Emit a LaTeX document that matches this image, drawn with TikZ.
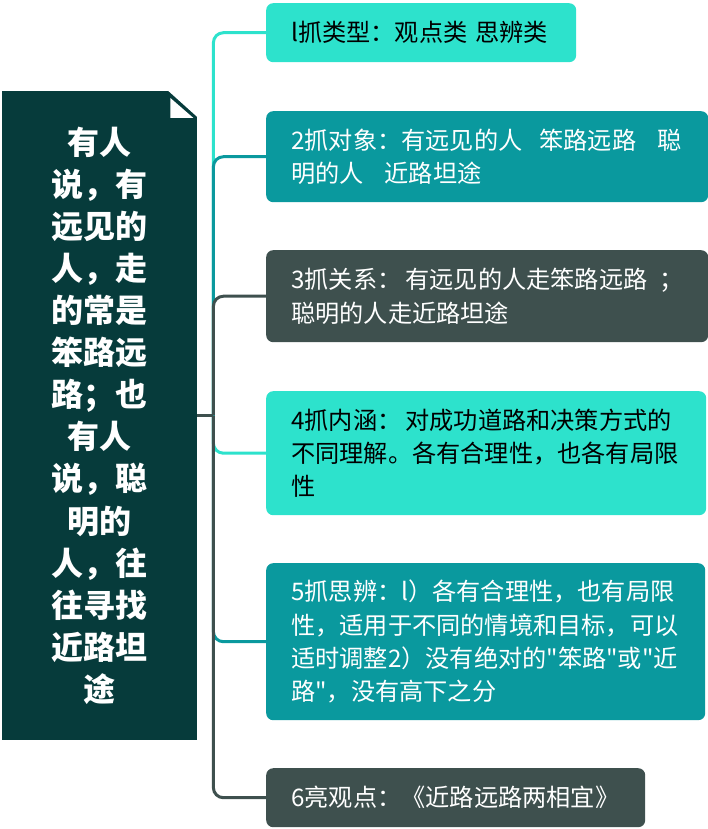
\documentclass[tikz,border=0pt]{standalone}
\usepackage{fontspec}
\setmainfont{Noto Sans CJK SC}
\definecolor{turq}{HTML}{2DE2CC}
\definecolor{tealb}{HTML}{0A999E}
\definecolor{slate}{HTML}{3E504E}
\definecolor{deep}{HTML}{063B3B}
\newcommand{\sq}{\textquotedbl}
\begin{document}
\begin{tikzpicture}[x=1pt,y=-1pt,
  box/.style={rounded corners=7pt, anchor=north west, inner xsep=25pt, inner ysep=0pt, align=left, font=\fontsize{24.2}{33.3}\selectfont},
  branch/.style={line width=3pt, rounded corners=10pt}]
\useasboundingbox (0,0) rectangle (708,829);
\node[fill=deep, minimum width=195pt, minimum height=649pt, anchor=north west, inner sep=0pt, text=white, align=center, font=\fontsize{32}{42.1}\bfseries\selectfont] (main) at (2,91)
 {有人\\说，有\\远见的\\人，走\\的常是\\笨路远\\路；也\\有人\\说，聪\\明的\\人，往\\往寻找\\近路坦\\途};
\fill[white] ([xshift=-29pt]main.north east) -- ([xshift=1pt,yshift=1pt]main.north east) -- ([xshift=1pt,yshift=-27pt]main.north east) -- cycle;
\fill[white] ([xshift=-27pt,yshift=-7pt]main.north east) -- ([xshift=-27pt,yshift=-27pt]main.north east) -- ([xshift=-4pt,yshift=-27pt]main.north east) -- cycle;
\coordinate (hub) at ([xshift=16pt]main.east);

\node[box, fill=turq, text=black, text width=260pt, minimum height=59pt] (b1) at (266,3) {\mbox{l抓类型：观点类 思辨类}};
\node[box, fill=tealb, text=white, text width=392pt, minimum height=91pt] (b2) at (266,111) {\mbox{2抓对象：有远见的人\hspace{17pt}笨路远路\hspace{21pt}聪}\\\mbox{明的人\hspace{21pt}近路坦途}};
\node[box, fill=slate, text=white, text width=392pt, minimum height=92pt] (b3) at (266,250) {\mbox{3抓关系：\,有远见的人走笨路远路\hspace{12pt}；}\\\mbox{聪明的人走近路坦途}};
\node[box, fill=turq, text=black, text width=390pt, minimum height=124pt] (b4) at (266,391) {\mbox{4抓内涵：\,对成功道路和决策方式的}\\\mbox{不同理解。各有合理性，也各有局限}\\性};
\node[box, fill=tealb, text=white, text width=389pt, minimum height=157pt] (b5) at (266,563) {\mbox{5抓思辨：l）各有合理性，也有局限}\\\mbox{性，适用于不同的情境和目标，可以}\\\mbox{适时调整2）没有绝对的\sq 笨路\sq 或\sq 近}\\\mbox{路\sq ，没有高下之分}};
\node[box, fill=slate, text=white, text width=329pt, minimum height=59pt] (b6) at (266,768) {\mbox{6亮观点：《近路远路两相宜》}};

\draw[branch, turq] (hub) |- (b1.west);
\draw[branch, tealb] (hub) |- (b2.west);
\draw[branch, slate] (hub) |- (b3.west);
\draw[branch, turq] (hub) |- (b4.west);
\draw[branch, tealb] (hub) |- (b5.west);
\draw[branch, slate] (hub) |- (b6.west);
\draw[line width=3pt, slate] (main.east) -- (hub);
\end{tikzpicture}
\end{document}
